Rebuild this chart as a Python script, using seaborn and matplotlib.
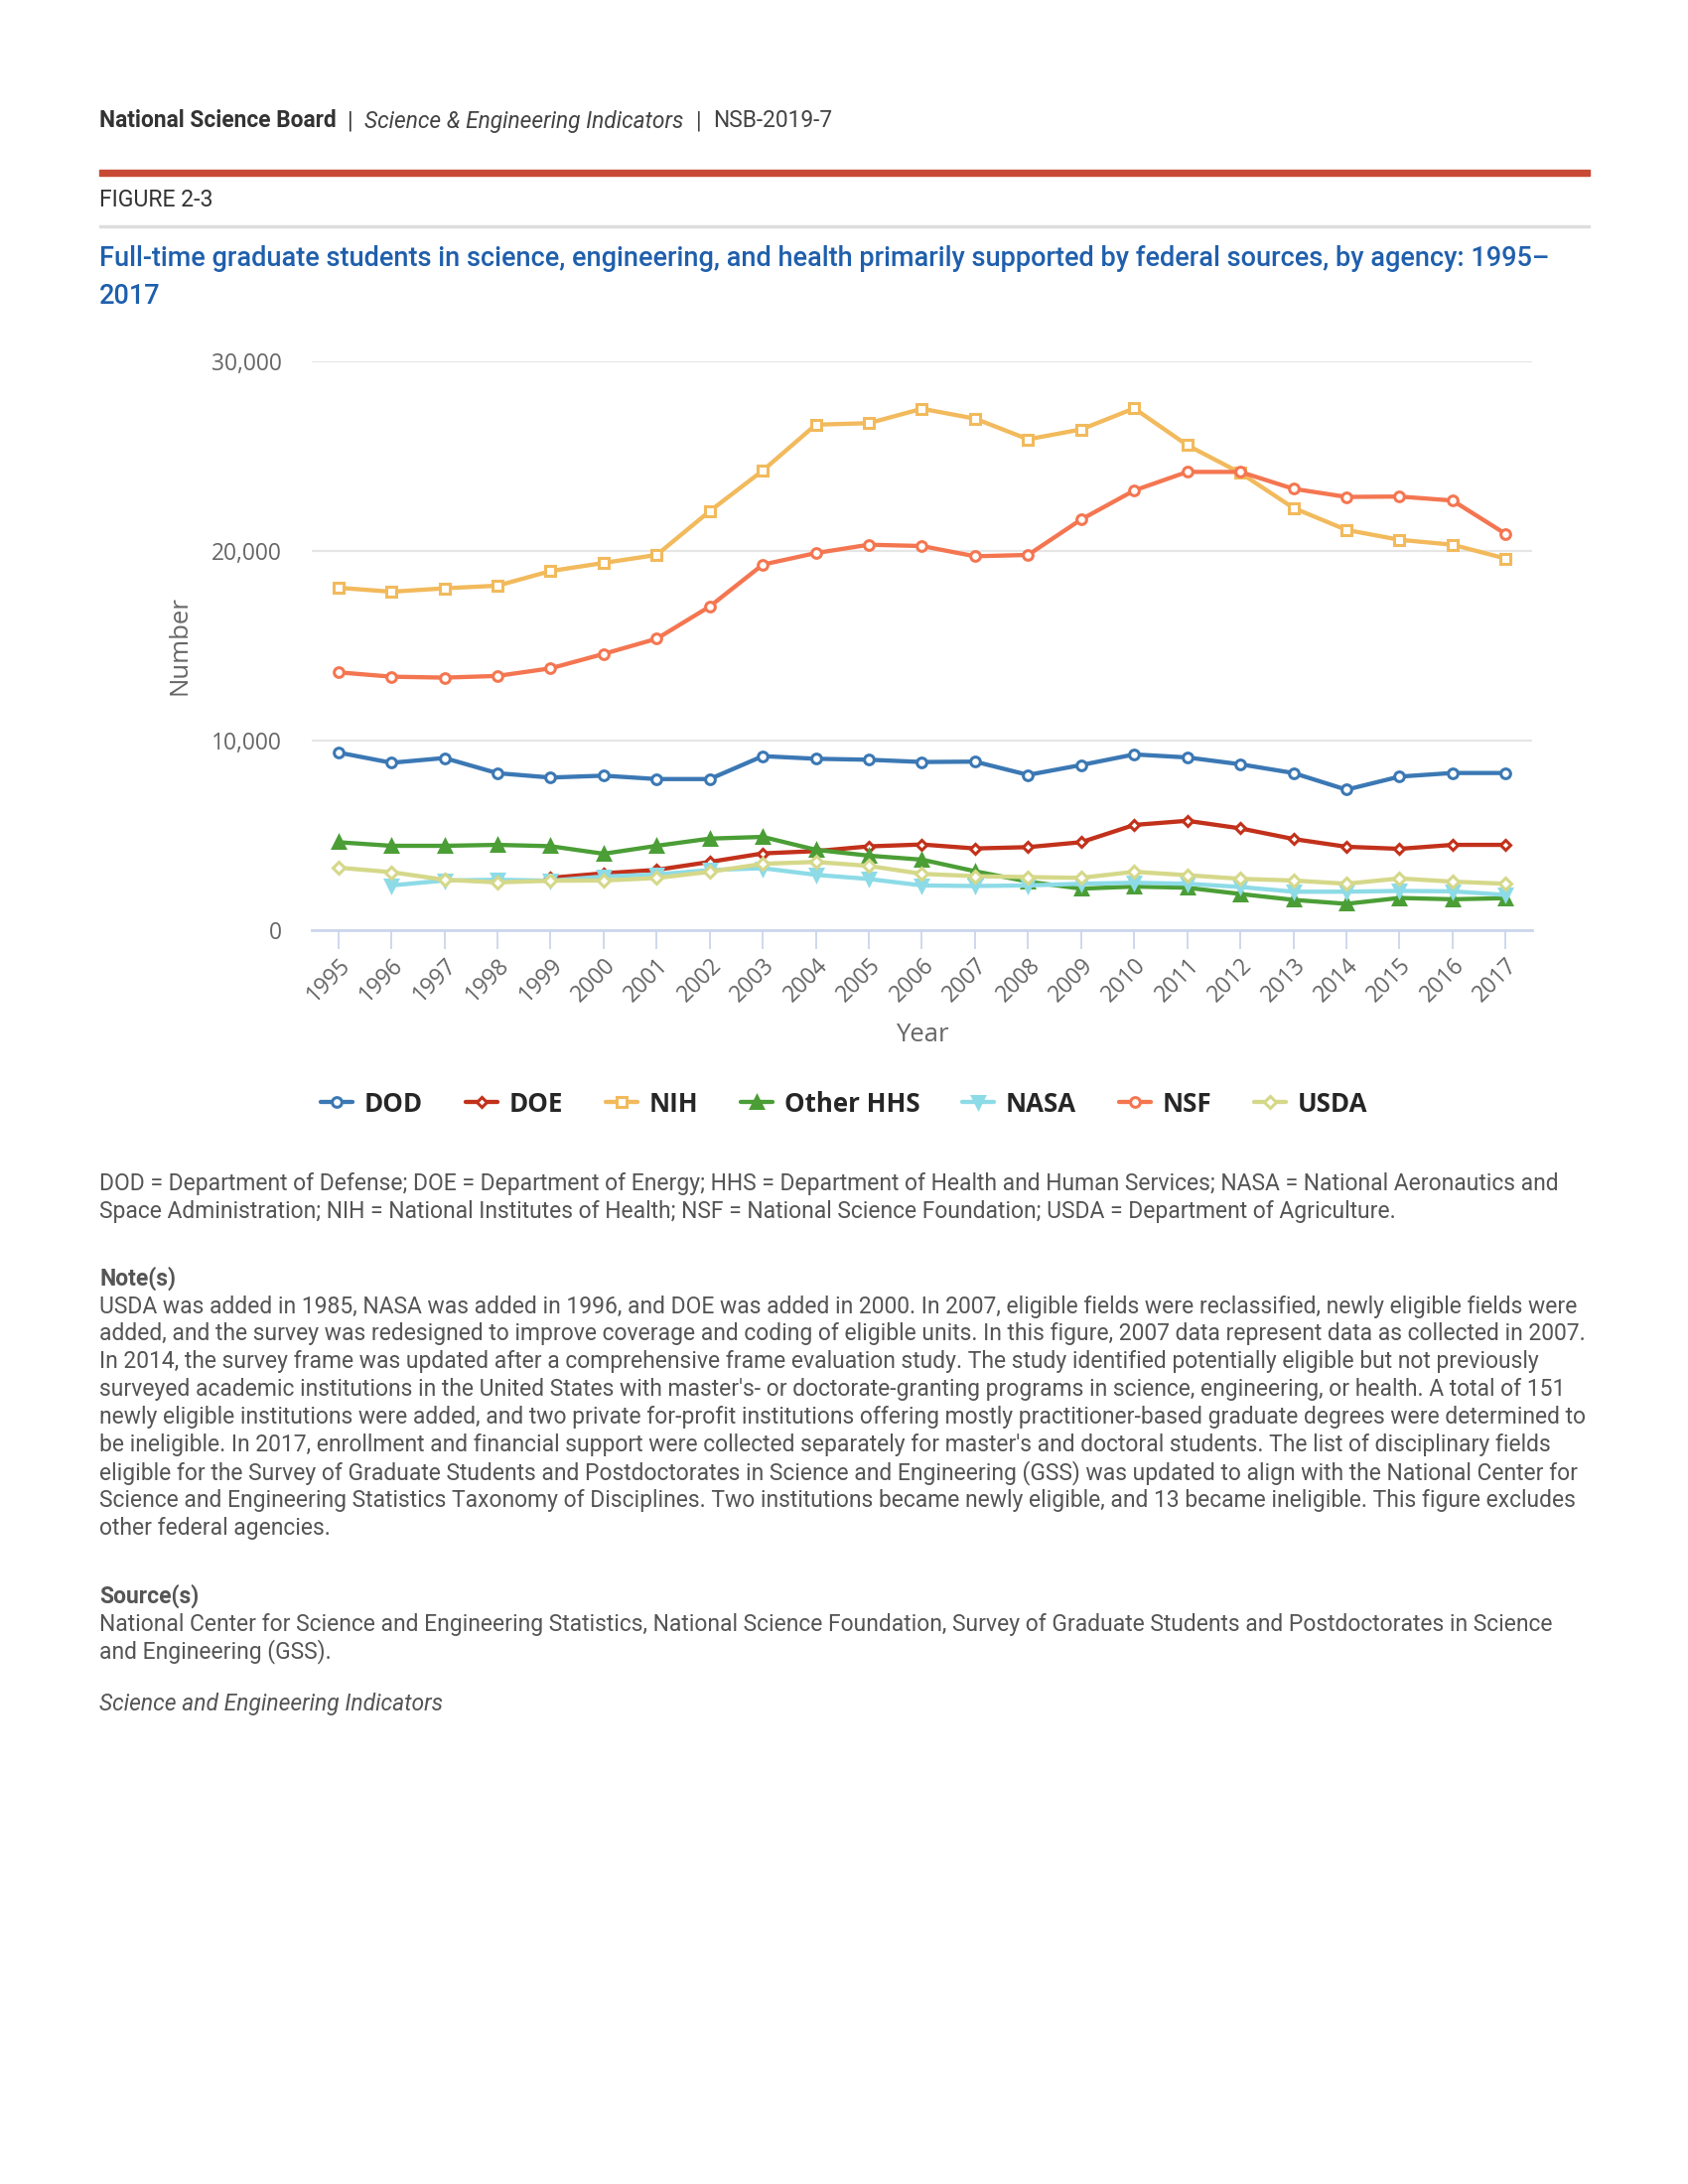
import matplotlib
matplotlib.use("Agg")
import matplotlib.pyplot as plt
import seaborn as sns
import pandas as pd
from matplotlib.patches import Rectangle
from matplotlib.ticker import FuncFormatter

# Data (number of students)
years = list(range(1995, 2018))
dod = [9370, 8830, 9080, 8280, 8050, 8150, 7970, 7970, 9180, 9040, 8990, 8870,
       8890, 8190, 8710, 9270, 9110, 8750, 8290, 7410, 8100, 8290, 8290]
doe = [None, None, None, None, 2760, 3000, 3180, 3600, 4050, 4170, 4420, 4520,
       4310, 4380, 4640, 5550, 5770, 5370, 4810, 4400, 4290, 4500, 4500]
nih = [18060, 17850, 18030, 18170, 18940, 19370, 19790, 22100, 24240, 26660, 26740, 27500,
       26980, 25890, 26410, 27520, 25580, 24120, 22270, 21110, 20590, 20330, 19600]
other_hhs = [4640, 4450, 4450, 4500, 4430, 4030, 4450, 4830, 4920, 4240, 3930, 3720,
             3110, 2560, 2190, 2300, 2240, 1910, 1600, 1390, 1700, 1630, 1690]
nasa = [None, 2360, 2620, 2660, 2610, 2830, 2940, 3170, 3270, 2920, 2700, 2360,
        2330, 2360, 2450, 2500, 2450, 2280, 2030, 2030, 2070, 2050, 1860]
nsf = [13600, 13370, 13320, 13410, 13810, 14570, 15370, 17070, 19280, 19890, 20330, 20260,
       19720, 19790, 21660, 23190, 24170, 24170, 23280, 22850, 22870, 22660, 20900]
usda = [3300, 3060, 2660, 2520, 2610, 2620, 2750, 3080, 3500, 3600, 3390, 2970,
        2850, 2800, 2760, 3080, 2900, 2710, 2620, 2450, 2730, 2560, 2450]

series_names = ["DOD", "DOE", "NIH", "Other HHS", "NASA", "NSF", "USDA"]
series_values = [dod, doe, nih, other_hhs, nasa, nsf, usda]
series_colors = ["#3b78b4", "#c2311b", "#f2ba5c", "#4b9e36", "#8ddbe7", "#f47651", "#d5d889"]
series_markers = ["o", "D", "s", "^", "v", "o", "D"]
series_sizes = [7, 5, 7, 8, 8, 7, 6]

W, H = 1700, 2200
FX = lambda px: px / W
FY = lambda py: 1 - py / H

sns.set_theme(style="white")
plt.rcParams["font.family"] = ["Roboto", "DejaVu Sans"]
chart_font = ["Open Sans", "DejaVu Sans"]

fig = plt.figure(figsize=(17, 22), dpi=100)

# Page header
dark = "#333333"
hs = 16.4
fig.text(FX(100), FY(122), "National Science Board", fontsize=hs, fontweight="bold",
         color=dark, va="center")
fig.text(FX(350), FY(122), "|", fontsize=hs, color=dark, va="center")
fig.text(FX(367), FY(122), "Science & Engineering Indicators", fontsize=hs,
         fontstyle="italic", color="#444444", va="center")
fig.text(FX(701), FY(122), "|", fontsize=hs, color="#444444", va="center")
fig.text(FX(718), FY(122), "NSB-2019-7", fontsize=hs, color="#444444", va="center")

fig.patches.append(Rectangle((FX(100), FY(177)), FX(1601) - FX(100), 6 / H,
                             transform=fig.transFigure, color="#c84a35", zorder=1))
fig.text(FX(100), FY(202), "FIGURE 2-3", fontsize=16.6, color=dark, va="center")
fig.patches.append(Rectangle((FX(100), FY(229)), FX(1601) - FX(100), 2 / H,
                             transform=fig.transFigure, color="#dddddd", zorder=1))

title_blue = "#1f5fad"
fig.text(FX(100), FY(260), "Full-time graduate students in science, engineering, and health "
         "primarily supported by federal sources, by agency: 1995\u2013",
         fontsize=19.5, fontweight="medium", color=title_blue, va="center")
fig.text(FX(100), FY(299), "2017", fontsize=19.5, fontweight="medium", color=title_blue,
         va="center")

# Chart
ax = fig.add_axes([FX(314), FY(937), FX(1543) - FX(314), (937 - 364) / H])
for name, vals, col, mk, ms in zip(series_names, series_values, series_colors,
                                   series_markers, series_sizes):
    df = pd.DataFrame({"Year": years, "Number": vals}).dropna()
    filled = mk in ("^", "v")
    sns.lineplot(data=df, x="Year", y="Number", ax=ax, color=col, linewidth=3.1,
                 marker=mk, markersize=ms, markeredgewidth=2.2,
                 markerfacecolor=col if filled else "white", markeredgecolor=col,
                 label=name, legend=False)

ax.set_xlim(1994.5, 2017.5)
ax.set_ylim(0, 30000)
ax.set_yticks([0, 10000, 20000, 30000])
ax.yaxis.set_major_formatter(FuncFormatter(lambda v, p: f"{int(v):,}"))
ax.set_xticks(years)
ax.grid(axis="y", color="#e6e6e6", linewidth=1.6)
ax.grid(axis="x", visible=False)
for s in ["left", "right", "top"]:
    ax.spines[s].set_visible(False)
ax.spines["bottom"].set_color("#ccd6eb")
ax.spines["bottom"].set_linewidth(2)
ax.tick_params(axis="x", which="major", length=14, width=1.3, color="#ccd6eb",
               direction="out", bottom=True, pad=3)
ax.tick_params(axis="y", length=0, pad=22)
for lab in ax.get_xticklabels():
    lab.set_rotation(45)
    lab.set_ha("right")
    lab.set_rotation_mode("anchor")
for lab in ax.get_xticklabels() + ax.get_yticklabels():
    lab.set_fontfamily(chart_font)
    lab.set_fontsize(16.4)
    lab.set_color("#666666")

ax.set_xlabel("Year", fontsize=18.5, color="#666666", family=chart_font)
ax.set_ylabel("Number", fontsize=18.5, color="#666666", family=chart_font)
ax.xaxis.set_label_coords(0.5, -0.162)
ax.yaxis.set_label_coords(-0.098, 0.5)

handles, labels = ax.get_legend_handles_labels()
fig.legend(handles, labels, loc="center", bbox_to_anchor=(0.5, FY(1112)), ncol=7,
           frameon=False, handlelength=1.25, columnspacing=1.65, handletextpad=0.45,
           prop={"family": chart_font, "weight": "bold", "size": 18.6})

# Footnotes
grey = "#555555"
fs = 16.5
def line(py, s, **kw):
    fig.text(FX(100), FY(py), s, fontsize=fs, color=grey, va="center", **kw)

line(1192, "DOD = Department of Defense; DOE = Department of Energy; HHS = Department of Health "
     "and Human Services; NASA = National Aeronautics and")
line(1220, "Space Administration; NIH = National Institutes of Health; NSF = National Science "
     "Foundation; USDA = Department of Agriculture.")

line(1288, "Note(s)", fontweight="bold")
notes = [
    "USDA was added in 1985, NASA was added in 1996, and DOE was added in 2000. In 2007, eligible fields were reclassified, newly eligible fields were",
    "added, and the survey was redesigned to improve coverage and coding of eligible units. In this figure, 2007 data represent data as collected in 2007.",
    "In 2014, the survey frame was updated after a comprehensive frame evaluation study. The study identified potentially eligible but not previously",
    "surveyed academic institutions in the United States with master's- or doctorate-granting programs in science, engineering, or health. A total of 151",
    "newly eligible institutions were added, and two private for-profit institutions offering mostly practitioner-based graduate degrees were determined to",
    "be ineligible. In 2017, enrollment and financial support were collected separately for master's and doctoral students. The list of disciplinary fields",
    "eligible for the Survey of Graduate Students and Postdoctorates in Science and Engineering (GSS) was updated to align with the National Center for",
    "Science and Engineering Statistics Taxonomy of Disciplines. Two institutions became newly eligible, and 13 became ineligible. This figure excludes",
    "other federal agencies.",
]
for i, s in enumerate(notes):
    line(1316 + i * 27.9, s)

line(1608, "Source(s)", fontweight="bold")
line(1636, "National Center for Science and Engineering Statistics, National Science Foundation, "
     "Survey of Graduate Students and Postdoctorates in Science")
line(1664, "and Engineering (GSS).")
line(1716, "Science and Engineering Indicators", fontstyle="italic")

fig.savefig("out.png", dpi=100, facecolor="white")
